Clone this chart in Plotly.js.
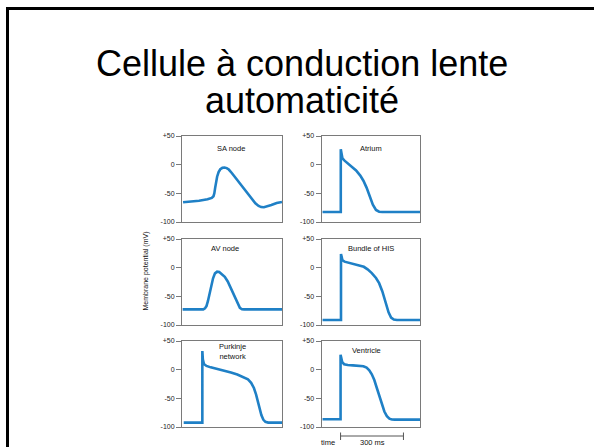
<!DOCTYPE html>
<html>
<head>
<meta charset="utf-8">
<script src="https://cdn.plot.ly/plotly-3.0.1.min.js"></script>
<style>html,body{margin:0;padding:0;background:#fff;}#chart{width:594px;height:447px;}</style>
</head>
<body>
<div id="chart"></div>
<script>
// Time in ms, membrane potential in mV
const panelNames = ["SA node", "Atrium", "AV node", "Bundle of HIS", "Purkinje<br>network", "Ventricle"];

const saT = [5, 40, 80, 120, 140, 148, 152, 156, 160, 165, 172, 180, 190, 200, 210, 220, 235, 250, 270, 290, 310, 330, 345, 360, 372, 385, 400, 420, 445, 470];
const saV = [-65.6, -64.5, -63, -60.5, -58, -55, -50, -40, -30, -21, -13, -8, -5.5, -5, -6, -8.5, -15, -22, -32, -42, -52, -61, -67.5, -72, -74, -74.3, -73, -70.5, -67, -65];

const atT = [5, 92, 92, 95, 100, 110, 125, 145, 165, 185, 200, 215, 230, 245, 260, 275, 290, 470];
const atV = [-82.5, -82.5, 27, 17, 11, 7, 2, -3, -10, -19, -28, -40, -56, -70, -79, -82, -82.5, -82.5];

const avT = [3, 100, 108, 115, 122, 130, 138, 146, 155, 165, 175, 188, 201, 215, 230, 245, 260, 272, 282, 292, 470];
const avV = [-72.7, -72.7, -71, -67, -58, -45, -30, -18.6, -10, -7, -7.5, -11, -16, -24, -36, -50, -63, -70, -72.5, -72.7, -72.7];

const hisT = [5, 93, 93, 96, 100, 110, 130, 155, 180, 202, 220, 240, 260, 275, 290, 300, 310, 320, 332, 345, 360, 470];
const hisV = [-91.3, -91.3, 23.8, 16, 13, 10.5, 8.5, 7, 4.5, 1.5, -3, -9.5, -18, -27, -41, -53, -66, -78, -87, -90.5, -91.3, -91.3];

const puT = [8, 95.6, 95.6, 98, 103, 115, 135, 165, 200, 230, 260, 290, 310, 325, 338, 348, 357, 365, 373, 382, 392, 405, 420, 470];
const puV = [-92.4, -92.4, 32.6, 18, 10, 6.5, 4, 1.5, -1.5, -5, -8.5, -12.8, -17, -23, -32, -43, -56, -69, -79, -87, -91, -92.3, -92.4, -92.4];

const veT = [5, 91, 91, 94, 99, 108, 125, 150, 180, 200, 215, 228, 240, 252, 264, 276, 288, 300, 312, 324, 336, 350, 470];
const veV = [-86.6, -86.6, 26, 18, 13, 9.5, 8, 7.5, 7, 6, 3.5, -1, -8, -18, -32, -47, -61, -73, -81, -85.5, -87, -87.2, -87.2];

const tickVals = [50, 0, -50, -100];
const tickText = ["+50", "0", "-50", "-100"];
const scaleBar = [91, 391];

const W = 594, H = 447;
const cols = [[182, 282], [321.5, 420]];
const rows = [[136, 222], [239, 325], [341, 427]];

const series = [[saT, saV], [atT, atV], [avT, avV], [hisT, hisV], [puT, puV], [veT, veV]];
const lineColor = "#1f80c6";

const traces = [];
const layout = {
  width: W, height: H,
  margin: {l: 0, r: 0, t: 0, b: 0},
  paper_bgcolor: "#ffffff", plot_bgcolor: "#ffffff",
  showlegend: false,
  font: {family: "Liberation Sans, Arial, sans-serif", color: "#222"},
  annotations: [], shapes: []
};

const labelPos = [
  {x: 230, y: 28},
  {x: 235, y: 28},
  {x: 200, y: 33},
  {x: 235, y: 33},
  {x: 235, y: 32},
  {x: 215, y: 33}
];

series.forEach((s, i) => {
  const n = i + 1;
  const col = cols[i % 2], row = rows[Math.floor(i / 2)];
  const xa = "xaxis" + (n === 1 ? "" : n), ya = "yaxis" + (n === 1 ? "" : n);
  const xr = "x" + (n === 1 ? "" : n), yr = "y" + (n === 1 ? "" : n);
  traces.push({x: s[0], y: s[1], xaxis: xr, yaxis: yr, type: "scatter", mode: "lines",
    line: {color: lineColor, width: 2.6, shape: "linear"}, hoverinfo: "skip"});
  layout[xa] = {domain: [col[0] / W, col[1] / W], range: [0, 470], showticklabels: false, ticks: "",
    showgrid: false, zeroline: false, showline: true, mirror: true, linecolor: "#7a7a7a", linewidth: 1,
    anchor: yr, fixedrange: true};
  layout[ya] = {domain: [1 - row[1] / H, 1 - row[0] / H], range: [-100, 50], tickvals: tickVals, ticktext: tickText,
    ticks: "outside", ticklen: 5, tickcolor: "#7a7a7a", tickwidth: 1,
    tickfont: {size: 7, color: "#222", family: "Liberation Sans, Arial, sans-serif"},
    showgrid: false, zeroline: false, showline: true, mirror: true, linecolor: "#7a7a7a", linewidth: 1,
    anchor: xr, fixedrange: true};
  layout.annotations.push({xref: xr, yref: yr, x: labelPos[i].x, y: labelPos[i].y, text: panelNames[i],
    showarrow: false, font: {size: 7.5, color: "#111"}, xanchor: "center", yanchor: "middle"});
});

// slide title
layout.annotations.push({xref: "paper", yref: "paper", x: 302 / W, y: 1 - 64 / H, text: "Cellule à conduction lente",
  showarrow: false, font: {size: 36, color: "#000"}, xanchor: "center", yanchor: "middle"});
layout.annotations.push({xref: "paper", yref: "paper", x: 302 / W, y: 1 - 100 / H, text: "automaticité",
  showarrow: false, font: {size: 36, color: "#000"}, xanchor: "center", yanchor: "middle"});

// y label
layout.annotations.push({xref: "paper", yref: "paper", x: 145 / W, y: 1 - 271.5 / H, text: "Membrane potential (mV)",
  showarrow: false, textangle: -90, font: {size: 7, color: "#111"}, xanchor: "center", yanchor: "middle"});

// time scale bar
layout.annotations.push({xref: "paper", yref: "paper", x: 328 / W, y: 1 - 442 / H, text: "time",
  showarrow: false, font: {size: 7.5, color: "#111"}, xanchor: "center", yanchor: "middle"});
layout.annotations.push({xref: "x6", yref: "paper", x: (scaleBar[0] + scaleBar[1]) / 2, y: 1 - 442.5 / H, text: "300 ms",
  showarrow: false, font: {size: 7.5, color: "#111"}, xanchor: "center", yanchor: "middle"});
layout.shapes.push({type: "line", xref: "x6", yref: "paper", x0: scaleBar[0], x1: scaleBar[1], y0: 1 - 436 / H, y1: 1 - 436 / H,
  line: {color: "#555", width: 1}});
layout.shapes.push({type: "line", xref: "x6", yref: "paper", x0: scaleBar[0], x1: scaleBar[0], y0: 1 - 432.5 / H, y1: 1 - 440 / H,
  line: {color: "#555", width: 1}});
layout.shapes.push({type: "line", xref: "x6", yref: "paper", x0: scaleBar[1], x1: scaleBar[1], y0: 1 - 432.5 / H, y1: 1 - 440 / H,
  line: {color: "#555", width: 1}});

// slide border
layout.shapes.push({type: "line", xref: "paper", yref: "paper", x0: 7.5 / W, x1: 7.5 / W, y0: 1 - 7 / H, y1: -0.05,
  line: {color: "#000", width: 3}});
layout.shapes.push({type: "line", xref: "paper", yref: "paper", x0: 6 / W, x1: 1.05, y0: 1 - 8.5 / H, y1: 1 - 8.5 / H,
  line: {color: "#000", width: 3}});

Plotly.newPlot("chart", traces, layout, {displayModeBar: false, staticPlot: true});
</script>
</body>
</html>
